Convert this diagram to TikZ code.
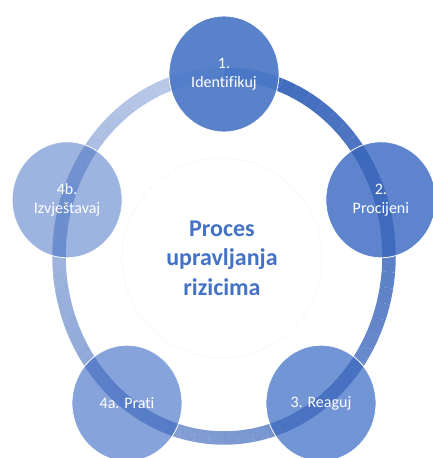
\documentclass[tikz,border=0pt]{standalone}
\usepackage{fontspec}
\setmainfont{Carlito}[Ligatures=NoCommon]
\usetikzlibrary{shapes.geometric}
\pgfdeclarelayer{fills}
\pgfdeclarelayer{ringlayer}
\pgfsetlayers{fills,ringlayer,main}
\definecolor{ringblue}{RGB}{58,102,187}
\definecolor{titleblue}{RGB}{68,114,196}
\definecolor{cA}{RGB}{76,121,199}
\definecolor{cB}{RGB}{94,132,206}
\definecolor{cC}{RGB}{114,149,213}
\definecolor{cD}{RGB}{135,163,219}
\definecolor{cE}{RGB}{157,180,225}
\begin{document}
\begin{tikzpicture}[x=1pt,y=1pt,
  stage/.style={ellipse, minimum width=110pt, minimum height=116pt, inner sep=0pt,
    draw=white, line width=0.8pt, text=white, align=center,
    font=\fontsize{16}{19}\selectfont},
  ringseg/.style={draw=ringblue, line width=13.5pt, line cap=butt},
  hubstyle/.style={circle, draw=black!4, line width=0.6pt, minimum size=200pt, inner sep=0pt},
  titlestyle/.style={text=titleblue, align=center, font=\bfseries\fontsize{24}{29.5}\selectfont}
]
\useasboundingbox (0,0) rectangle (433,458);
\coordinate (O) at (224,202);
\node[hubstyle] (hub) at (222,200) {};
\node[titlestyle] (title) at (222,200) {Proces\\upravljanja\\rizicima};

\node[stage] (c2) at (380.9,258.2) {2.\\Procijeni};
\node[stage] (c3) at (321.0,54.8) {3. Reaguj};
\node[stage] (c4) at (127.0,54.8) {4a. Prati};
\node[stage] (c5) at (67.1,258.2) {4b.\\Izvještavaj};
\node[stage, fill=cA, fill opacity=0.93, text opacity=1] (c1) at (224,384) {1.\\Identifikuj};

\begin{pgfonlayer}{fills}
  \fill[cB] (c2.center) ellipse[x radius=55pt, y radius=58pt];
  \fill[cC] (c3.center) ellipse[x radius=55pt, y radius=58pt];
  \fill[cD] (c4.center) ellipse[x radius=55pt, y radius=58pt];
  \fill[cE] (c5.center) ellipse[x radius=55pt, y radius=58pt];
\end{pgfonlayer}

\begin{pgfonlayer}{ringlayer}
  \foreach \i in {0,...,71} {
    \pgfmathsetmacro\sa{90-5*\i}
    \pgfmathsetmacro\ea{85-5*\i}
    \pgfmathsetmacro\op{1-0.68*(\i+0.5)/72}
    \draw[ringseg, draw opacity=\op] ([shift={(\sa:165pt and 182pt)}]O)
      arc[start angle=\sa, end angle=\ea, x radius=165pt, y radius=182pt];
  }
\end{pgfonlayer}
\end{tikzpicture}
\end{document}
